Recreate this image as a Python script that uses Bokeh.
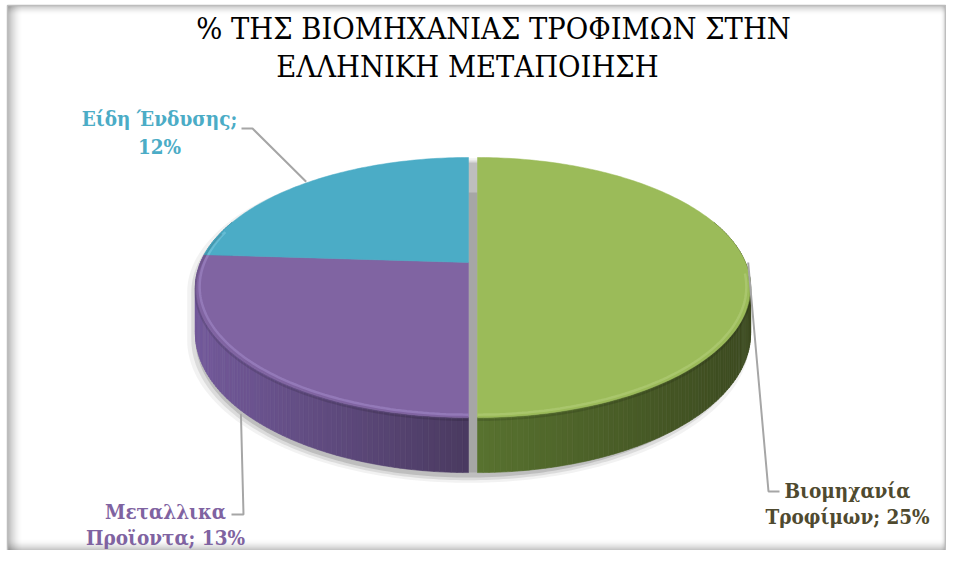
import numpy as np
from bokeh.plotting import figure
from bokeh.models import Range1d
from bokeh.core.properties import value
from bokeh.embed import file_html
from bokeh.resources import INLINE

# ---------------- data ----------------
title_lines = ["% ΤΗΣ ΒΙΟΜΗΧΑΝΙΑΣ ΤΡΟΦΙΜΩΝ ΣΤΗΝ", "ΕΛΛΗΝΙΚΗ ΜΕΤΑΠΟΙΗΣΗ"]
categories = ["Βιομηχανία\nΤροφίμων", "Μεταλλικα\nΠροϊοντα", "Είδη Ένδυσης"]
values = [25, 13, 12]
label_sep = ["; ", "; ", ";\n"]
top_colors = ["#9BBB59", "#8064A2", "#4BACC6"]
side_light = ["#58722F", "#735A9B", "#3F8EA5"]
side_dark = ["#3C4A20", "#4A3A60", "#2C6577"]
rim_colors = ["#B4CF7C", "#A38BCB", "#7CCBE0"]
label_colors = ["#4F4A2F", "#7F63A1", "#4BACC6"]
explode_px = [9, 0, 0]
# label layout (first-line centre), leader elbow and end points
label_pos = [(847, 490), (165, 511), (159, 118)]
leader_elbow = [(768, 491), (243, 514), (252, 128)]
leader_end = [(779, 491), (231, 514), (241, 128)]
leader_anchor_on_bottom = [False, True, False]
line_gap = [26, 26, 28]

FONT = "DejaVu Serif Condensed, DejaVu Serif"

W, H = 946, 550

# ---------------- geometry (perspective pie) ----------------
CX0 = 468.0   # pie centre x
YC = 262.0    # pie centre y
A = 268.0     # horizontal radius scale
B = 125.2     # vertical radius scale
C = 0.1923    # perspective factor
D = 44.5      # thickness


def proj(theta_deg, cx, r=1.0):
    t = np.radians(theta_deg)
    u = r * np.sin(t)
    v = -r * np.cos(t)
    w = 1 - C * v
    return cx + A * u / w, YC + B * v / w, D / w


def hexrgb(h):
    h = h.lstrip("#")
    return np.array([int(h[i:i + 2], 16) for i in (0, 2, 4)], dtype=float)


def mix(c1, c2, t):
    c = hexrgb(c1) * (1 - t) + hexrgb(c2) * t
    return "#%02x%02x%02x" % tuple(int(round(x)) for x in c)


total = float(sum(values))
angles = np.cumsum([0] + [v / total * 360.0 for v in values])

p = figure(width=W, height=H, x_range=Range1d(0, W), y_range=Range1d(H, 0),
           output_backend="svg", toolbar_location=None, min_border=0,
           x_axis_type=None, y_axis_type=None)
p.grid.visible = False
p.background_fill_color = "white"
p.border_fill_color = "white"
p.outline_line_color = None

# chart frame with inner shadow
FL, FT, FR, FB = 7, 5, W - 1, H
for i in range(16):
    a = 0.30 * (1 - i / 16.0) ** 2
    p.quad(left=[FL + i], right=[FL + i + 1], top=[FT], bottom=[FB], fill_color="black",
           fill_alpha=a, line_color=None)
for i in range(10):
    a = 0.22 * (1 - i / 10.0) ** 2
    p.quad(left=[FL], right=[FR], top=[FT + i], bottom=[FT + i + 1], fill_color="black",
           fill_alpha=a, line_color=None)
for i in range(12):
    a = 0.25 * (1 - i / 12.0) ** 2
    p.quad(left=[FL], right=[FR], top=[FB - 1 - i], bottom=[FB - i], fill_color="black",
           fill_alpha=a, line_color=None)
for i in range(5):
    a = 0.15 * (1 - i / 5.0) ** 2
    p.quad(left=[FR - 1 - i], right=[FR - i], top=[FT], bottom=[FB], fill_color="black",
           fill_alpha=a, line_color=None)
p.line([FL, FL, FR, FR], [FB, FT, FT, FB], line_color="#BDBDBD", line_width=1.5)

# shadow of the pie (convex hull of top & bottom outlines)
th = np.arange(0, 360, 1.0)
xs_t, ys_t, dp = proj(th, CX0 + 4)
pts = np.concatenate([np.column_stack([xs_t, ys_t]), np.column_stack([xs_t, ys_t + dp])])


def hull(points):
    pts_ = sorted(map(tuple, points))

    def cross(o, a, b):
        return (a[0] - o[0]) * (b[1] - o[1]) - (a[1] - o[1]) * (b[0] - o[0])
    lower, upper = [], []
    for q in pts_:
        while len(lower) >= 2 and cross(lower[-2], lower[-1], q) <= 0:
            lower.pop()
        lower.append(q)
    for q in reversed(pts_):
        while len(upper) >= 2 and cross(upper[-2], upper[-1], q) <= 0:
            upper.pop()
        upper.append(q)
    return np.array(lower[:-1] + upper[:-1])


hp = hull(pts)
hc = hp.mean(axis=0)
for k, (s, a) in enumerate([(1.03, 0.08), (1.015, 0.14), (1.0, 0.22)]):
    sx = hc[0] + (hp[:, 0] - hc[0]) * s - 4
    sy = hc[1] + (hp[:, 1] - hc[1]) * s + 5
    p.patch(sx, sy, fill_color="#555555", fill_alpha=a, line_color=None)

# gap fill (shadowed cut faces between exploded slice and the rest)
gx0, gy0, _ = proj(0.0, CX0)
gx1, gy1, gd1 = proj(180.0, CX0)
p.quad(left=[CX0], right=[CX0 + explode_px[0]], top=[gy0 + 35], bottom=[gy1 + gd1],
       fill_color="#A6A6A6", line_color=None)

# sides
for i, v in enumerate(values):
    a1, a2 = angles[i], angles[i + 1]
    mid = (a1 + a2) / 2
    cx = CX0 + explode_px[i] * np.sin(np.radians(mid))
    lo, hi = max(a1, 70.0), min(a2, 290.0)
    if hi <= lo:
        continue
    tt = np.linspace(lo, hi, int(hi - lo) + 2)
    X, Y, Dp = proj(tt, cx)
    xmin, xmax = X.min(), X.max()
    qxs, qys, cols = [], [], []
    for j in range(len(tt) - 1):
        qxs.append([X[j], X[j + 1], X[j + 1], X[j]])
        qys.append([Y[j], Y[j + 1], Y[j + 1] + Dp[j + 1], Y[j] + Dp[j]])
        t = ((X[j] + X[j + 1]) / 2 - xmin) / max(xmax - xmin, 1)
        cols.append(mix(side_light[i], side_dark[i], t))
    p.patches(qxs, qys, fill_color=cols, line_color=cols, line_width=0.6)

# top faces
for i, v in enumerate(values):
    a1, a2 = angles[i], angles[i + 1]
    mid = (a1 + a2) / 2
    cx = CX0 + explode_px[i] * np.sin(np.radians(mid))
    tt = np.linspace(a1, a2, int(a2 - a1) + 2)
    X, Y, _ = proj(tt, cx)
    x0, y0, _ = proj(0.0, cx, r=0.0)
    p.patch(np.concatenate([[x0], X]), np.concatenate([[y0], Y]),
            fill_color=top_colors[i], line_color=top_colors[i], line_width=0.5)
    # bevel highlight on the front rim
    lo, hi = max(a1, 95.0), min(a2, 285.0)
    if hi > lo:
        tr = np.linspace(lo, hi, int(hi - lo) + 2)
        Xr, Yr, _ = proj(tr, cx, r=0.985)
        p.line(Xr, Yr, line_color=rim_colors[i], line_width=2.5, line_alpha=0.55)
        Xs, Ys, _ = proj(tr, cx, r=1.0)
        p.line(Xs, Ys + 2.5, line_color="black", line_width=2, line_alpha=0.12)

# leader lines
for i, v in enumerate(values):
    mid = (angles[i] + angles[i + 1]) / 2
    cx = CX0 + explode_px[i] * np.sin(np.radians(mid))
    ax, ay, ad = proj(mid, cx, r=1.01)
    if leader_anchor_on_bottom[i]:
        ay = ay + ad
    ex, ey = leader_elbow[i]
    fx, fy = leader_end[i]
    p.line([ax, ex, fx], [ay, ey, fy], line_color="#A6A6A6", line_width=2)

# data labels
for i, v in enumerate(values):
    txt = categories[i] + label_sep[i] + "%d%%" % v
    lines = txt.split("\n")
    lx, ly = label_pos[i]
    p.text(x=[lx] * len(lines), y=[ly + line_gap[i] * k for k in range(len(lines))],
           text=lines, text_font=value(FONT), text_font_size="20.5px",
           text_font_style="bold", text_color=label_colors[i], text_align="center",
           text_baseline="middle")

# title
p.text(x=[493, 467], y=[28, 66], text=title_lines, text_font=value(FONT),
       text_font_size="30.5px", text_color="black", text_align="center",
       text_baseline="middle")

open("out.html", "w").write(file_html(p, INLINE))
